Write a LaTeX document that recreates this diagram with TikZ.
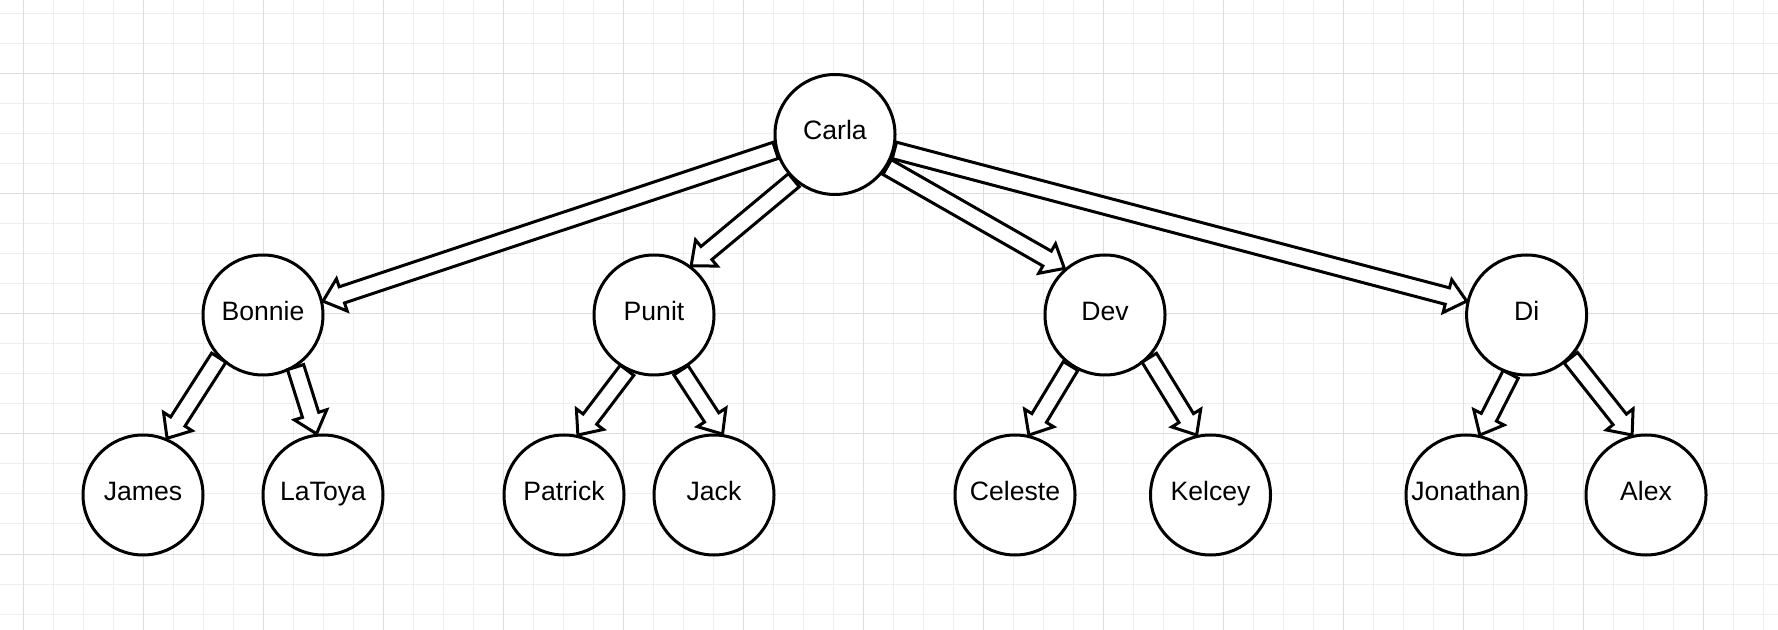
\documentclass[tikz,border=0pt]{standalone}
\usepackage{fontspec}
\setmainfont{Liberation Sans}
\usetikzlibrary{calc,shapes.arrows}
\definecolor{gridminorcolor}{RGB}{238,238,238}
\definecolor{gridmajorcolor}{RGB}{221,221,221}

\tikzset{
  person/.style={circle, draw=black, line width=1.5pt, fill=white, minimum size=60pt, inner sep=0pt,
    font=\fontsize{13.3}{16}\selectfont, text height=9.5pt, text depth=4pt},
  flexarrow/.style={single arrow, draw=black, fill=white, line width=1.5pt, inner xsep=0pt, inner ysep=3.5pt,
    outer sep=0pt, single arrow head extend=4.25pt, single arrow tip angle=81, anchor=tail},
  gridminor/.style={gridminorcolor, line width=0.5pt},
  gridmajor/.style={gridmajorcolor, line width=0.5pt}
}

% hollow arrow from one anchor to another
\newcommand{\flexlink}[2]{%
  \path let \p1=($(#2)-(#1)$), \n1={veclen(\x1,\y1)}, \n2={atan2(\y1,\x1)} in
    node[flexarrow, minimum height=\n1, rotate=\n2] at (#1) {};}

\begin{document}
\begin{tikzpicture}[x=0.5pt, y=-0.5pt]
\useasboundingbox[fill=white] (0,0) rectangle (1778,630);

% Grid
\foreach \gx in {23,53,...,1778} \draw[gridminor] (\gx,0) -- (\gx,630);
\foreach \gy in {14,44,...,630} \draw[gridminor] (0,\gy) -- (1778,\gy);
\foreach \gx in {23,143,...,1778} \draw[gridmajor] (\gx,0) -- (\gx,630);
\foreach \gy in {74,194,...,630} \draw[gridmajor] (0,\gy) -- (1778,\gy);

% Root
\node[person] (carla) at (835,134.5) {Carla};

% Children
\node[person] (bonnie) at (263,315) {Bonnie};
\node[person] (punit) at (654,315) {Punit};
\node[person] (dev) at (1105,315) {Dev};
\node[person] (di) at (1526.6,315) {Di};

% Grandchildren
\node[person] (james) at (143,495) {James};
\node[person] (latoya) at (323,495) {LaToya};
\node[person] (patrick) at (564,495) {Patrick};
\node[person] (jack) at (714,495) {Jack};
\node[person] (celeste) at (1015,495) {Celeste};
\node[person] (kelcey) at (1210.5,495) {Kelcey};
\node[person] (jonathan) at (1466,495) {Jonathan};
\node[person] (alex) at (1646,495) {Alex};

% Arrows
\flexlink{carla.195}{bonnie.13}
\flexlink{carla.228}{punit.53}
\flexlink{carla.328}{dev.131}
\flexlink{carla.345}{di.167}

\flexlink{bonnie.224}{james.67}
\flexlink{bonnie.302}{latoya.96}
\flexlink{punit.244}{patrick.77}
\flexlink{punit.296}{jack.82}
\flexlink{dev.236}{celeste.77}
\flexlink{dev.316}{kelcey.103}
\flexlink{di.255}{jonathan.77}
\flexlink{di.316}{alex.103}

\end{tikzpicture}
\end{document}
